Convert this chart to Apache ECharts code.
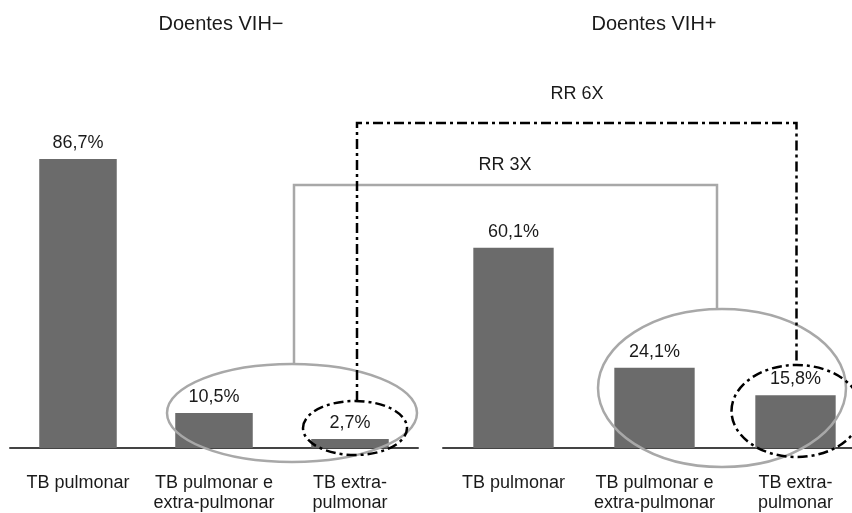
<!DOCTYPE html>
<html>
<head>
<meta charset="utf-8">
<script src="https://cdn.jsdelivr.net/npm/echarts@6/dist/echarts.min.js"></script>
<style>
html,body{margin:0;padding:0;background:#fff;overflow:hidden;}
#chart{width:852px;height:513px;}
</style>
</head>
<body>
<div id="chart"></div>
<script>
const categories = ['TB pulmonar', 'TB pulmonar e\nextra-pulmonar', 'TB extra-\npulmonar'];
const vihNeg = [86.7, 10.5, 2.7];
const vihPos = [60.1, 24.1, 15.8];
const panelTitles = ['Doentes VIH\u2212', 'Doentes VIH+'];
const rrLabels = ['RR 3X', 'RR 6X'];

const FONT = "'Liberation Sans', Arial, Helvetica, sans-serif";
const TXT = '#1a1a1a';
const BAR = '#6b6b6b';

const chart = echarts.init(document.getElementById('chart'));

function xAxisCfg(gi) {
  return {
    type: 'category', gridIndex: gi, data: categories,
    axisLine: {show: true, lineStyle: {color: '#444', width: 2}},
    axisTick: {show: false},
    axisLabel: {color: TXT, fontSize: 18, fontFamily: FONT, lineHeight: 20, margin: 25, interval: 0}
  };
}
function yAxisCfg(gi) {
  return {type: 'value', gridIndex: gi, min: 0, max: 99, show: false};
}
function seriesCfg(gi, data) {
  return {
    type: 'bar', xAxisIndex: gi, yAxisIndex: gi, data: data,
    barWidth: '57%',
    itemStyle: {color: BAR},
    label: {
      show: true, position: 'top', distance: 7,
      color: TXT, fontSize: 18, fontFamily: FONT,
      formatter: p => p.value.toFixed(1).replace('.', ',') + '%'
    },
    silent: true
  };
}

chart.setOption({
  animation: false,
  backgroundColor: '#fff',
  grid: [
    {left: 10, width: 408, top: 118, bottom: 65, containLabel: false, outerBoundsMode: 'none'},
    {left: 443, width: 423, top: 118, bottom: 65, containLabel: false, outerBoundsMode: 'none'}
  ],
  xAxis: [xAxisCfg(0), xAxisCfg(1)],
  yAxis: [yAxisCfg(0), yAxisCfg(1)],
  series: [seriesCfg(0, vihNeg), seriesCfg(1, vihPos)]
});

const px = (s, i, v) => chart.convertToPixel({seriesIndex: s}, [i, v]);
const a = px(0, 1, 0), b = px(0, 2, 0), c = px(1, 1, 0), d = px(1, 2, 0);
const axisY = a[1];

const GRAY = {stroke: '#a8a8a8', lineWidth: 2.5, fill: null};
const DASH = {stroke: '#000', lineWidth: 2.5, fill: null, lineDash: [10, 4, 3, 4]};

const eL = {cx: (a[0] + b[0]) / 2 + 10, cy: axisY - 35, rx: 125, ry: 49};
const sL = {cx: b[0] + 5, cy: axisY - 20, rx: 52, ry: 27};
const eR = {cx: (c[0] + d[0]) / 2 - 3, cy: axisY - 60, rx: 124, ry: 79};
const sR = {cx: d[0] + 1, cy: axisY - 37, rx: 65, ry: 46};

const grayTop = axisY - 263;
const dashTop = axisY - 325;

const txt = (x, y, s, size) => ({
  type: 'text', x: x, y: y, z: 100,
  style: {text: s, fill: TXT, font: size + 'px ' + FONT, textAlign: 'center', textVerticalAlign: 'middle'}
});

chart.setOption({
  graphic: [
    txt(221, 24, panelTitles[0], 20),
    txt(654, 24, panelTitles[1], 20),
    {type: 'ellipse', z: 100, shape: eL, style: GRAY},
    {type: 'ellipse', z: 100, shape: eR, style: GRAY},
    {type: 'polyline', z: 100, shape: {points: [
      [eL.cx + 2, eL.cy - eL.ry], [eL.cx + 2, grayTop], [eR.cx - 5, grayTop], [eR.cx - 5, eR.cy - eR.ry]
    ]}, style: GRAY},
    {type: 'ellipse', z: 101, shape: sL, style: DASH},
    {type: 'ellipse', z: 101, shape: sR, style: DASH},
    {type: 'polyline', z: 101, shape: {points: [
      [sL.cx + 2, sL.cy - sL.ry], [sL.cx + 2, dashTop], [sR.cx, dashTop], [sR.cx, sR.cy - sR.ry]
    ]}, style: DASH},
    txt(505, grayTop - 20, rrLabels[0], 18),
    txt(577, dashTop - 29, rrLabels[1], 18)
  ]
});
</script>
</body>
</html>
